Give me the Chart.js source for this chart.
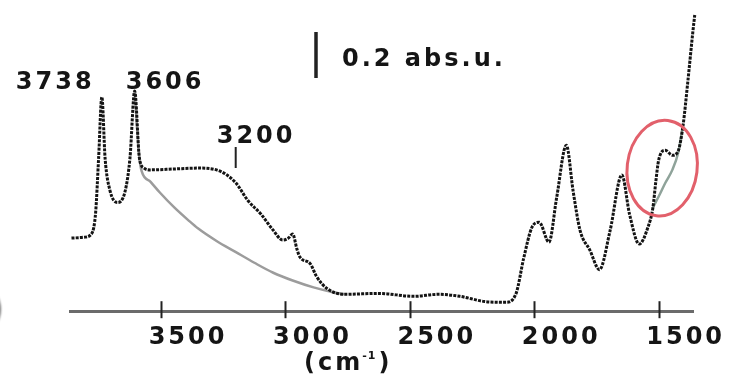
<!DOCTYPE html>
<html>
<head>
<meta charset="utf-8">
<script src="https://cdn.jsdelivr.net/npm/chart.js@4.4.1/dist/chart.umd.min.js"></script>
<style>
  html, body { margin: 0; padding: 0; background: #fff; }
  #wrap { width: 731px; height: 374px; }
</style>
</head>
<body>
<div id="wrap"><canvas id="irChart"></canvas></div>
<script>
// sample spectrum: wavenumber (cm-1) and absorbance
const sampleWn = [3860, 3809, 3778, 3763, 3751, 3738, 3725, 3705, 3675, 3644,
                  3625, 3606, 3587, 3568, 3542, 3447, 3352, 3277, 3200, 3151,
                  3098, 3049, 3011, 2988, 2971, 2954, 2942, 2900, 2875, 2833,
                  2763, 2625, 2483, 2385, 2299, 2201, 2115, 2073, 2043, 2009,
                  1980, 1941, 1910, 1871, 1844, 1816, 1777, 1738, 1695, 1648,
                  1617, 1578, 1543, 1523, 1512, 1500, 1473, 1445, 1422, 1402,
                  1383, 1363, 1355];
const sampleAbs = [0.329, 0.333, 0.351, 0.444, 0.689, 0.964, 0.689, 0.542, 0.489, 0.542,
                   0.689, 0.991, 0.689, 0.644, 0.636, 0.640, 0.644, 0.636, 0.578, 0.498,
                   0.436, 0.364, 0.320, 0.329, 0.347, 0.280, 0.244, 0.213, 0.156, 0.102,
                   0.076, 0.080, 0.067, 0.076, 0.067, 0.044, 0.040, 0.080, 0.236, 0.378,
                   0.400, 0.311, 0.511, 0.747, 0.542, 0.364, 0.276, 0.187, 0.364, 0.613,
                   0.436, 0.302, 0.378, 0.467, 0.578, 0.680, 0.724, 0.702, 0.720, 0.836,
                   1.031, 1.253, 1.333];

// reference spectrum where it departs from the sample (OH region and ~1500)
const refWnOH = [3606, 3587, 3578, 3542, 3504, 3447, 3390, 3352, 3277, 3201, 3125, 3049, 2971, 2887, 2804, 2762];
const refAbsOH = [0.991, 0.689, 0.630, 0.582, 0.533, 0.467, 0.409, 0.373, 0.316, 0.267, 0.218, 0.173, 0.138, 0.107, 0.084, 0.076];
const refWnLow = [1523, 1500, 1473, 1445, 1422, 1402];
const refAbsLow = [0.467, 0.516, 0.578, 0.636, 0.711, 0.836];

const xTicks = [3500, 3000, 2500, 2000, 1500];
const peakLabels = [3738, 3606, 3200];

const toPoints = (xs, ys) => xs.map((w, i) => ({ x: w, y: ys[i] }));

const TEXT_FONT = 'bold 24px "DejaVu Sans"';
const INK = '#151515';
const GAP = '3px';

// wide lettering for every text drawn on the canvas
const spacing = {
  id: 'spacing',
  beforeDraw(chart) { chart.ctx.letterSpacing = GAP; },
  afterDraw(chart) { chart.ctx.letterSpacing = '0px'; }
};

const annotate = {
  id: 'annotate',
  afterDraw(chart) {
    const { ctx, chartArea, scales: { x, y } } = chart;
    ctx.save();

    // tick marks crossing the axis line
    ctx.strokeStyle = '#222';
    ctx.lineWidth = 2;
    xTicks.forEach(v => {
      const px = Math.round(x.getPixelForValue(v)) + 0.5;
      ctx.beginPath();
      ctx.moveTo(px, chartArea.bottom - 10);
      ctx.lineTo(px, chartArea.bottom + 7);
      ctx.stroke();
    });

    ctx.letterSpacing = GAP;
    ctx.font = TEXT_FONT;
    ctx.fillStyle = INK;
    ctx.textBaseline = 'alphabetic';
    ctx.textAlign = 'left';

    // peak labels
    const [p1, p2, p3] = peakLabels;
    ctx.fillText(String(p1), x.getPixelForValue(p1) - 86, 89);
    ctx.fillText(String(p2), x.getPixelForValue(p2) - 9, 89);
    const px3 = x.getPixelForValue(p3);
    ctx.fillText(String(p3), px3 - 19, 143);
    ctx.lineWidth = 2;
    ctx.beginPath();
    ctx.moveTo(px3, 147);
    ctx.lineTo(px3, 168);
    ctx.stroke();

    // absorbance scale bar
    ctx.lineWidth = 3.5;
    ctx.beginPath();
    ctx.moveTo(316, 32);
    ctx.lineTo(316, 78);
    ctx.stroke();
    ctx.fillText('0.2 abs.u.', 342, 66);

    // axis unit with small superscript
    ctx.fillText('(cm', 304, 370);
    let cx = 304 + ctx.measureText('(cm').width;
    ctx.font = 'bold 11px "DejaVu Sans"';
    ctx.letterSpacing = '1px';
    ctx.fillText('-1', cx - 1, 359);
    cx += ctx.measureText('-1').width;
    ctx.font = TEXT_FONT;
    ctx.letterSpacing = GAP;
    ctx.fillText(')', cx + 1, 370);

    // edge of the panel letter
    ctx.save();
    ctx.filter = 'blur(1px)';
    ctx.fillStyle = '#666';
    ctx.font = 'bold 40px "DejaVu Sans"';
    ctx.fillText(')', -14, 322);
    ctx.restore();

    // highlight around the ~1500 cm-1 band
    ctx.strokeStyle = '#e2606b';
    ctx.lineWidth = 3;
    ctx.beginPath();
    ctx.ellipse(x.getPixelForValue(1486), y.getPixelForValue(0.644), 35, 48, 0.12, 0, Math.PI * 2);
    ctx.stroke();

    ctx.restore();
  }
};

new Chart(document.getElementById('irChart'), {
  type: 'line',
  data: {
    datasets: [
      {
        data: toPoints(sampleWn, sampleAbs),
        borderColor: '#141414',
        borderWidth: 3,
        borderDash: [3, 1.2],
        pointRadius: 0,
        cubicInterpolationMode: 'monotone',
        clip: false
      },
      {
        data: toPoints(refWnOH, refAbsOH),
        borderColor: '#9c9c9c',
        borderWidth: 2.5,
        pointRadius: 0,
        cubicInterpolationMode: 'monotone'
      },
      {
        data: toPoints(refWnLow, refAbsLow),
        borderColor: '#8fa39a',
        borderWidth: 2.5,
        pointRadius: 0,
        cubicInterpolationMode: 'monotone'
      }
    ]
  },
  options: {
    responsive: true,
    maintainAspectRatio: false,
    animation: false,
    layout: { padding: { left: 70, right: 38, top: 9, bottom: 10 } },
    plugins: {
      legend: { display: false },
      tooltip: { enabled: false }
    },
    scales: {
      x: {
        type: 'linear',
        reverse: true,
        min: 1362,
        max: 3866,
        afterBuildTicks: axis => { axis.ticks = xTicks.map(v => ({ value: v })); },
        grid: { display: false, drawTicks: false },
        border: { display: true, color: '#6b6b6b', width: 3 },
        ticks: {
          color: INK,
          font: { family: 'DejaVu Sans', weight: 'bold', size: 24 },
          padding: 12,
          labelOffset: 27,
          maxRotation: 0,
          autoSkip: false,
          callback: v => String(v)
        }
      },
      y: {
        display: false,
        min: 0,
        max: 1.36
      }
    }
  },
  plugins: [spacing, annotate]
});
</script>
</body>
</html>
